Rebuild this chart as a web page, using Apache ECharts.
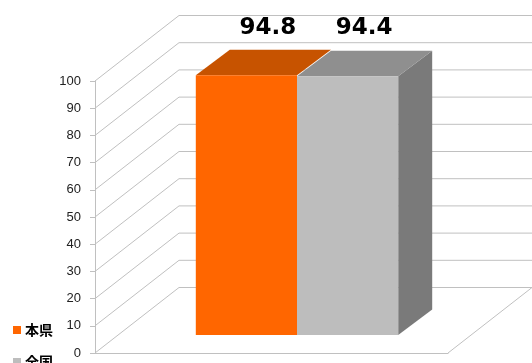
<!DOCTYPE html>
<html><head><meta charset="utf-8">
<style>html,body{margin:0;padding:0;background:#fff;overflow:hidden}#c{width:532px;height:363px}</style>
<script src="https://cdn.jsdelivr.net/npm/echarts@6/dist/echarts.min.js"></script>
</head><body><div id="c"></div>
<script>
const categories = ['H'];
const seriesNames = ['本県', '全国'];
const honken = [94.8];
const zenkoku = [94.4];
const ticks = [0, 10, 20, 30, 40, 50, 60, 70, 80, 90, 100];

const WALL = { dx: 84, dy: -65.5 };
const DEPTH = { dx: 34, dy: -25.5 };
const LINE = '#c0c0c0';
const chart = echarts.init(document.getElementById('c'), null, { renderer: 'canvas' });

function wall(params, api) {
  const v = api.value(0);
  const c = params.coordSys;
  const y = api.coord([0, v])[1];
  const pts = [[c.x, y], [c.x + WALL.dx, y + WALL.dy], [c.x + c.width + WALL.dx, y + WALL.dy]];
  const children = [{ type: 'polyline', shape: { points: pts }, style: { fill: null, stroke: LINE, lineWidth: 1 } }];
  if (v === 0) {
    children.push({ type: 'line', shape: { x1: c.x + c.width, y1: y, x2: c.x + c.width + WALL.dx, y2: y + WALL.dy }, style: { stroke: LINE, lineWidth: 1 } });
  }
  return { type: 'group', children };
}

function bar(slot, colors, labelDx) {
  return function (params, api) {
    const top = api.coord([api.value(0), api.value(1)]);
    const base = api.coord([api.value(0), 0]);
    const w = api.size([1, 0])[0] * 0.2875;
    const x0 = top[0] + (slot - 1) * w;
    const x1 = x0 + w;
    const d = DEPTH;
    return { type: 'group', children: [
      { type: 'polygon', shape: { points: [[x1, top[1]], [x1 + d.dx, top[1] + d.dy], [x1 + d.dx, base[1] + d.dy], [x1, base[1]]] }, style: { fill: colors.side } },
      { type: 'polygon', shape: { points: [[x0, top[1]], [x1, top[1]], [x1 + d.dx, top[1] + d.dy], [x0 + d.dx, top[1] + d.dy]] }, style: { fill: colors.top } },
      { type: 'rect', shape: { x: x0, y: top[1], width: w, height: base[1] - top[1] }, style: { fill: colors.front } },
      { type: 'text', style: { text: String(api.value(1)), x: (x0 + x1) / 2 + labelDx, y: 28, align: 'center', verticalAlign: 'middle', font: 'bold 23px "DejaVu Sans"', fill: '#000' } }
    ] };
  };
}

chart.setOption({
  animation: false,
  backgroundColor: '#fff',
  legend: {
    data: seriesNames, orient: 'vertical', left: 13, top: 323, height: 200, itemWidth: 8, itemHeight: 8, itemGap: 18, padding: 0,
    icon: 'rect', selectedMode: false,
    textStyle: { fontFamily: 'Noto Sans CJK JP', fontWeight: 'bold', fontSize: 14, color: '#000', padding: [0, 0, 0, -1] }
  },
  grid: [
    { left: 95, right: 84, top: 81, bottom: 10 },
    { left: 121, right: 59, top: 61, bottom: 28 }
  ],
  xAxis: [
    { type: 'category', gridIndex: 0, data: categories, axisLabel: { show: false }, axisTick: { show: false }, axisLine: { lineStyle: { color: LINE, width: 1 } } },
    { type: 'category', gridIndex: 1, data: categories, show: false }
  ],
  yAxis: [
    { type: 'value', gridIndex: 0, min: 0, max: 100, interval: 10, splitLine: { show: false },
      axisLine: { show: true, lineStyle: { color: LINE, width: 1 } },
      axisTick: { show: true, length: 5, lineStyle: { color: LINE } },
      axisLabel: { margin: 14, fontFamily: 'Liberation Sans', fontSize: 13, color: '#222', padding: [0, 0, 2, 0] } },
    { type: 'value', gridIndex: 1, min: 0, max: 100, show: false }
  ],
  series: [
    { type: 'custom', name: 'wall', xAxisIndex: 0, yAxisIndex: 0, silent: true, z: 1, data: ticks.map(v => [v]), encode: { y: 0 }, renderItem: wall, clip: false },
    { type: 'custom', name: seriesNames[0], xAxisIndex: 1, yAxisIndex: 1, z: 2, itemStyle: { color: '#FF6600' }, clip: false,
      data: honken.map((v, i) => [i, v]), encode: { x: 0, y: 1 },
      renderItem: bar(0, { front: '#FF6600', top: '#C75300', side: 'none' }, 21.5) },
    { type: 'custom', name: seriesNames[1], xAxisIndex: 1, yAxisIndex: 1, z: 3, itemStyle: { color: '#BDBDBD' }, clip: false,
      data: zenkoku.map((v, i) => [i, v]), encode: { x: 0, y: 1 },
      renderItem: bar(1, { front: '#BDBDBD', top: '#8F8F8F', side: '#7A7A7A' }, 16.5) }
  ]
});
</script></body></html>
